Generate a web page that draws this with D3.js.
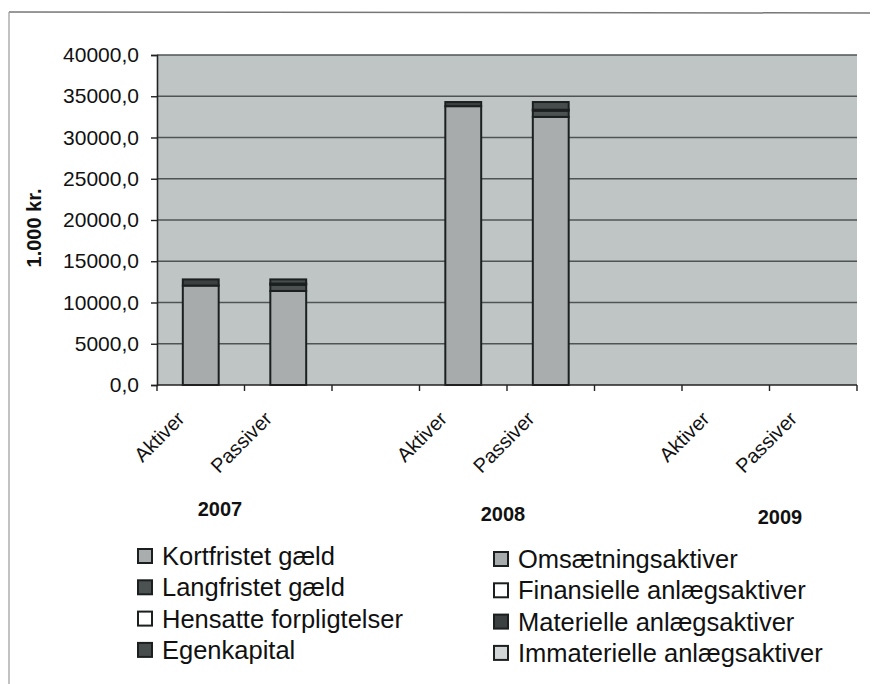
<!DOCTYPE html>
<html>
<head>
<meta charset="utf-8">
<script src="https://cdn.jsdelivr.net/npm/d3@7"></script>
<style>
  body { margin: 0; background: #fff; }
  svg { display: block; font-family: Arial, "Liberation Sans", sans-serif; }
  .tick text { font-size: 21px; fill: #111; }
  .cat { font-size: 20px; fill: #111; }
  .year { font-size: 20px; font-weight: bold; fill: #111; }
  .legend text { font-size: 25.5px; fill: #111; }
</style>
</head>
<body>
<svg width="873" height="684"></svg>
<script>
// Years and the two bars per year
const years = ["2007", "2008", "2009"];
const sides = ["Aktiver", "Passiver"];

// Passiver series (1.000 kr.), one value per year
const kortfristetGaeld = [11400, 32500, 0];
const langfristetGaeld = [750, 750, 0];
const hensatteForpligtelser = [150, 120, 0];
const egenkapital = [500, 930, 0];

// Aktiver series (1.000 kr.), one value per year
const omsaetningsaktiver = [12050, 33800, 0];
const finansielleAnlaeg = [0, 0, 0];
const materielleAnlaeg = [750, 500, 0];
const immaterielleAnlaeg = [0, 0, 0];

const yTicks = [0, 5000, 10000, 15000, 20000, 25000, 30000, 35000, 40000];

const series = [
  { name: "Kortfristet gæld", side: "Passiver", values: kortfristetGaeld, color: "#a9adad" },
  { name: "Langfristet gæld", side: "Passiver", values: langfristetGaeld, color: "#4c5151" },
  { name: "Hensatte forpligtelser", side: "Passiver", values: hensatteForpligtelser, color: "#ffffff" },
  { name: "Egenkapital", side: "Passiver", values: egenkapital, color: "#474c4c" },
  { name: "Omsætningsaktiver", side: "Aktiver", values: omsaetningsaktiver, color: "#a7abab" },
  { name: "Finansielle anlægsaktiver", side: "Aktiver", values: finansielleAnlaeg, color: "#ffffff" },
  { name: "Materielle anlægsaktiver", side: "Aktiver", values: materielleAnlaeg, color: "#3c4040" },
  { name: "Immaterielle anlægsaktiver", side: "Aktiver", values: immaterielleAnlaeg, color: "#d3d6d6" }
];

// Slots along the x axis: Aktiver, Passiver, gap, ... (no gap after last year)
const slots = [];
years.forEach((yr, yi) => {
  sides.forEach(s => slots.push({ id: yr + s, year: yr, yi: yi, side: s }));
  if (yi < years.length - 1) slots.push({ id: yr + "gap", year: yr, yi: yi, side: null });
});

const svg = d3.select("svg");

// frame of the scanned page
svg.append("line").attr("x1", 9).attr("x2", 870).attr("y1", 12).attr("y2", 13)
  .attr("stroke", "#777").attr("stroke-width", 1.5);
svg.append("line").attr("x1", 9).attr("x2", 9).attr("y1", 12).attr("y2", 684)
  .attr("stroke", "#999").attr("stroke-width", 1.2);

const x = d3.scaleBand().domain(slots.map(d => d.id)).range([157, 857]).padding(0);
const y = d3.scaleLinear().domain([0, 40000]).range([385, 55]);
const barW = x.bandwidth() * 0.41;

// plot background
svg.append("rect")
  .attr("x", 157).attr("y", y(40000))
  .attr("width", 700).attr("height", y(0) - y(40000))
  .attr("fill", "#bfc5c5");

// gridlines
svg.append("g")
  .selectAll("line")
  .data(yTicks.filter(d => d > 0))
  .enter()
  .append("line")
  .attr("x1", 157).attr("x2", 857)
  .attr("y1", d => y(d)).attr("y2", d => y(d))
  .attr("stroke", "#4f5353").attr("stroke-width", 1.6);

// stacked bars
const barSlots = slots.filter(d => d.side);
const bars = svg.append("g")
  .selectAll("g.bar")
  .data(barSlots)
  .enter()
  .append("g")
  .attr("class", "bar");

bars.each(function (slot) {
  const g = d3.select(this);
  const stack = series.filter(s => s.side === slot.side);
  let base = 0;
  const cx = x(slot.id) + x.bandwidth() / 2;
  stack.forEach(s => {
    const v = s.values[slot.yi];
    if (v > 0) {
      g.append("rect")
        .attr("x", cx - barW / 2)
        .attr("y", y(base + v))
        .attr("width", barW)
        .attr("height", y(base) - y(base + v))
        .attr("fill", s.color)
        .attr("stroke", "#1b1f1f")
        .attr("stroke-width", 2);
    }
    base += v;
  });
});

// y axis
const yAxis = svg.append("g")
  .attr("transform", "translate(157,0)")
  .call(d3.axisLeft(y).tickValues(yTicks).tickSize(6).tickPadding(12)
    .tickFormat(d => d3.format(".1f")(d).replace(".", ",")));
yAxis.select(".domain").attr("stroke", "#222").attr("stroke-width", 1.6);
yAxis.selectAll(".tick line").attr("stroke", "#222").attr("stroke-width", 1.4);

// x axis with ticks at slot boundaries
const xAxis = svg.append("g");
xAxis.append("line")
  .attr("x1", 157).attr("x2", 857).attr("y1", y(0)).attr("y2", y(0))
  .attr("stroke", "#222").attr("stroke-width", 1.6);
xAxis.selectAll("line.xt")
  .data(slots.map(d => x(d.id)).concat([857]))
  .enter()
  .append("line")
  .attr("class", "xt")
  .attr("x1", d => d).attr("x2", d => d)
  .attr("y1", y(0)).attr("y2", y(0) + 6)
  .attr("stroke", "#222").attr("stroke-width", 1.4);

// rotated category labels
svg.append("g")
  .selectAll("text")
  .data(barSlots)
  .enter()
  .append("text")
  .attr("class", "cat")
  .attr("text-anchor", "end")
  .attr("transform", d => `translate(${x(d.id) + x.bandwidth() / 2 - 15},${y(0) + 35}) rotate(-45)`)
  .text(d => d.side);

// year labels
const yearX = [220, 503, 780];
const yearY = [516, 521, 524];
svg.append("g")
  .selectAll("text")
  .data(years)
  .enter()
  .append("text")
  .attr("class", "year")
  .attr("text-anchor", "middle")
  .attr("x", (d, i) => yearX[i])
  .attr("y", (d, i) => yearY[i])
  .text(d => d);

// y axis title
svg.append("text")
  .attr("transform", "translate(41,228) rotate(-90)")
  .attr("text-anchor", "middle")
  .style("font-size", "20px")
  .style("font-weight", "bold")
  .attr("fill", "#111")
  .text("1.000 kr.");

// legend, two columns of four
const legendCols = [
  { x: 138, items: series.slice(0, 4) },
  { x: 494, items: series.slice(4, 8) }
];
const legend = svg.append("g").attr("class", "legend");
legendCols.forEach((col, ci) => {
  const rows = legend.selectAll("g.c" + ci)
    .data(col.items)
    .enter()
    .append("g")
    .attr("class", "c" + ci)
    .attr("transform", (d, i) => `translate(${col.x},${556 + ci * 3 + i * 31.3})`);
  rows.append("rect")
    .attr("x", 0).attr("y", -7)
    .attr("width", 14).attr("height", 14)
    .attr("fill", d => d.color)
    .attr("stroke", "#1b1f1f").attr("stroke-width", 2);
  rows.append("text")
    .attr("x", 24).attr("y", 9)
    .text(d => d.name);
});
</script>
</body>
</html>
